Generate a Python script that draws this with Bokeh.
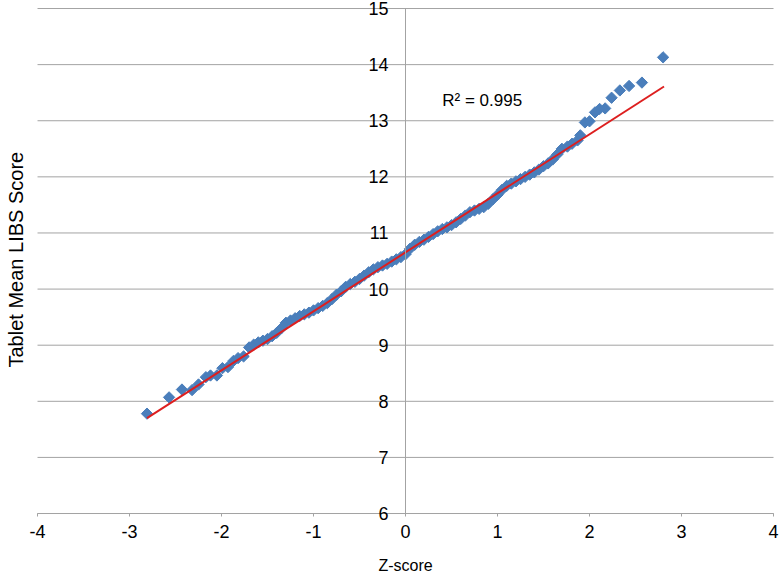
from bokeh.plotting import figure
from bokeh.models import (Range1d, LinearAxis, FixedTicker, Title, Label,
                          ColumnDataSource, PrintfTickFormatter)
from bokeh.embed import file_html
from bokeh.resources import INLINE

# ---------------- data ----------------
z_score = [
    -2.81, -2.57, -2.43, -2.32, -2.25, -2.17, -2.12, -2.05, -1.99, -1.93, -1.87, -1.82, -1.76, -1.70,
    -1.65, -1.60, -1.55, -1.50, -1.45, -1.40, -1.35, -1.30, -1.25, -1.20, -1.15, -1.10, -1.05, -1.00,
    -0.95, -0.90, -0.85, -0.80, -0.75, -0.70, -0.65, -0.60, -0.55, -0.50, -0.45, -0.40, -0.35, -0.30,
    -0.25, -0.20, -0.15, -0.10, -0.05, 0.00, 0.05, 0.10, 0.15, 0.20, 0.25, 0.30, 0.35, 0.40,
    0.45, 0.50, 0.55, 0.60, 0.65, 0.70, 0.75, 0.80, 0.85, 0.90, 0.95, 1.00, 1.05, 1.10,
    1.15, 1.20, 1.25, 1.30, 1.35, 1.40, 1.45, 1.50, 1.55, 1.60, 1.65, 1.70,
    1.76, 1.81, 1.87, 1.90, 1.95, 2.00, 2.06, 2.11, 2.17, 2.24, 2.33, 2.43, 2.57, 2.80,
]
libs_score = [
    7.78, 8.07, 8.21, 8.20, 8.30, 8.43, 8.46, 8.46, 8.59, 8.61, 8.72, 8.77, 8.80, 8.96,
    9.01, 9.05, 9.08, 9.11, 9.16, 9.22, 9.30, 9.40, 9.44, 9.48, 9.52, 9.55, 9.58, 9.62,
    9.66, 9.70, 9.75, 9.82, 9.90, 9.96, 10.04, 10.09, 10.13, 10.18, 10.24, 10.30, 10.35, 10.39,
    10.42, 10.45, 10.49, 10.53, 10.57, 10.62, 10.72, 10.79, 10.84, 10.88, 10.93, 10.98, 11.03, 11.07,
    11.10, 11.14, 11.19, 11.25, 11.31, 11.37, 11.40, 11.43, 11.46, 11.52, 11.60, 11.68, 11.77, 11.84,
    11.88, 11.92, 11.96, 12.00, 12.04, 12.08, 12.13, 12.19, 12.24, 12.31, 12.40, 12.50,
    12.54, 12.59, 12.65, 12.74, 12.97, 12.99, 13.15, 13.21, 13.22, 13.41, 13.54, 13.62, 13.68, 14.13,
]
fit_x = [-2.81, 2.81]
fit_y = [7.70, 13.61]
r2_text = "R² = 0.995"
x_limits = [-4, 4]
y_limits = [6, 15]
x_ticks = [-4, -3, -2, -1, 0, 1, 2, 3, 4]
y_ticks = [6, 7, 8, 9, 10, 11, 12, 13, 14, 15]
x_title = "Z-score"
y_title = "Tablet Mean LIBS Score"

FONT = "Liberation Sans"
GRID = "#a3a3a3"

# the frame is padded beyond the axis limits so that the end tick labels are not clipped
p = figure(width=780, height=578,
           x_range=Range1d(-4.098, 4.076), y_range=Range1d(4.842, 15.143),
           output_backend="svg", toolbar_location=None,
           x_axis_location=None, y_axis_location=None,
           min_border_left=28, min_border_right=0, min_border_top=0, min_border_bottom=0)
p.outline_line_color = None
p.background_fill_color = "white"
p.grid.visible = False

# horizontal gridlines between the x limits
p.segment(x0=[x_limits[0]] * len(y_ticks), x1=[x_limits[1]] * len(y_ticks),
          y0=y_ticks, y1=y_ticks, line_color=GRID, line_width=1)

# x axis crossing at y = 6
xaxis = LinearAxis(ticker=FixedTicker(ticks=x_ticks), axis_label=x_title,
                   formatter=PrintfTickFormatter(format="%d"),
                   fixed_location=y_limits[0], bounds=tuple(x_limits))
xaxis.axis_line_color = GRID
xaxis.major_tick_line_color = GRID
xaxis.major_tick_out = 3
xaxis.major_tick_in = 0
xaxis.minor_tick_line_color = None
xaxis.major_label_text_font = FONT
xaxis.major_label_text_font_size = "18px"
xaxis.major_label_text_color = "black"
xaxis.major_label_standoff = 8
xaxis.axis_label_text_font = FONT
xaxis.axis_label_text_font_size = "16px"
xaxis.axis_label_text_font_style = "normal"
xaxis.axis_label_text_color = "black"
xaxis.axis_label_standoff = 16
p.add_layout(xaxis, "below")

# y axis crossing at x = 0
yaxis = LinearAxis(ticker=FixedTicker(ticks=y_ticks), fixed_location=0, bounds=tuple(y_limits),
                   formatter=PrintfTickFormatter(format="%d"))
yaxis.axis_line_color = GRID
yaxis.major_tick_line_color = None
yaxis.minor_tick_line_color = None
yaxis.major_label_text_font = FONT
yaxis.major_label_text_font_size = "18px"
yaxis.major_label_text_color = "black"
yaxis.major_label_standoff = 11
p.add_layout(yaxis, "left")

ytitle = Title(text=y_title, align="left", offset=211, text_font=FONT, text_font_size="20px",
               text_font_style="normal", text_color="black", standoff=4)
p.add_layout(ytitle, "left")

src = ColumnDataSource(dict(x=z_score, y=libs_score))
p.scatter("x", "y", source=src, marker="square", size=8, angle=0.785398,
          fill_color="#4a7ebb", line_color="#4a7ebb")
p.line(fit_x, fit_y, line_color="#dd1f1f", line_width=2)

p.add_layout(Label(x=0.40, y=13.36, text=r2_text, text_font=FONT, text_font_size="17px",
                   text_baseline="middle", text_color="black"))

open("out.html", "w").write(file_html(p, INLINE))
